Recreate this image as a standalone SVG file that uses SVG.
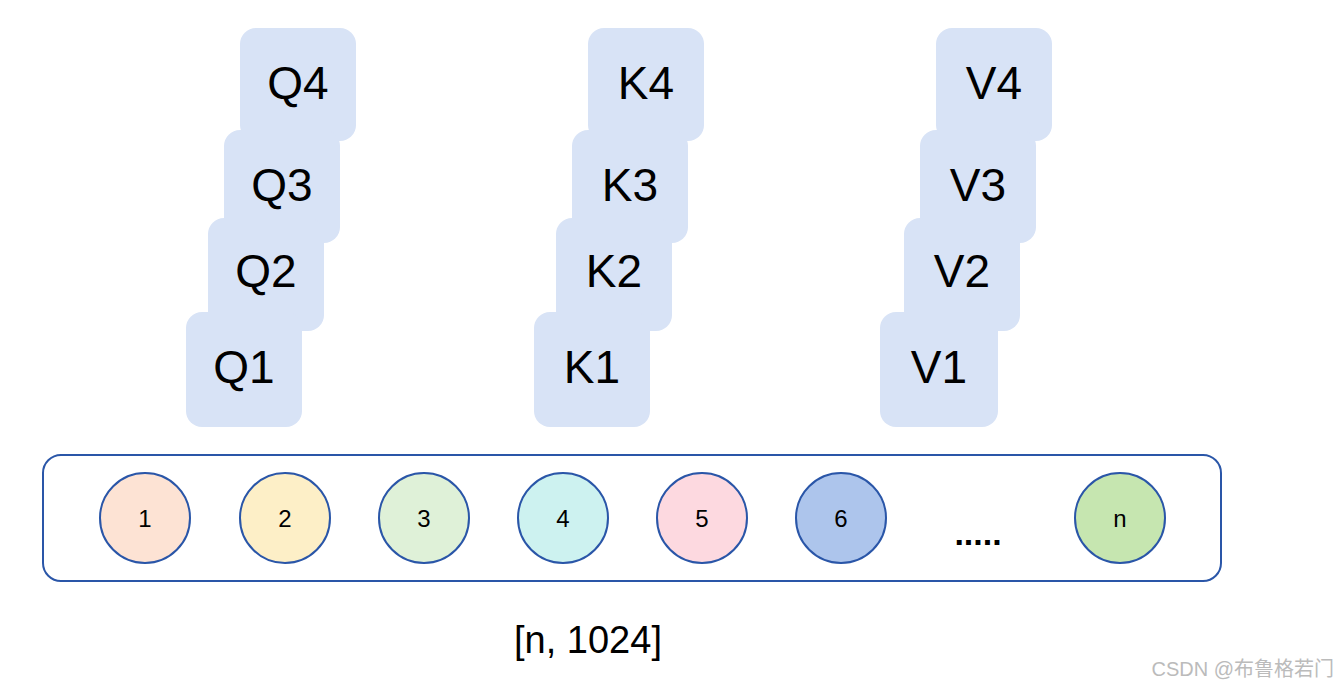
<svg xmlns="http://www.w3.org/2000/svg" width="1342" height="690" viewBox="0 0 1342 690">
<style>
.b{fill:#d8e3f6}
.bt{font-family:"Liberation Sans",Arial,sans-serif;font-size:46px;fill:#000;text-anchor:middle}
.c{stroke:#2a56a8;stroke-width:2}
.ct{font-family:"Liberation Sans",Arial,sans-serif;font-size:24px;fill:#000;text-anchor:middle}
</style>
<rect width="1342" height="690" fill="#fff"/>
<g id="Q4"><rect class="b" x="240" y="28" width="116" height="113" rx="16"/><text class="bt" x="298" y="99">Q4</text></g>
<g id="Q3"><rect class="b" x="224" y="130" width="116" height="113" rx="16"/><text class="bt" x="282" y="201">Q3</text></g>
<g id="Q2"><rect class="b" x="208" y="218" width="116" height="113" rx="16"/><text class="bt" x="266" y="287">Q2</text></g>
<g id="Q1"><rect class="b" x="186" y="312" width="116" height="115" rx="16"/><text class="bt" x="244" y="383">Q1</text></g>
<g id="K4"><rect class="b" x="588" y="28" width="116" height="113" rx="16"/><text class="bt" x="646" y="99">K4</text></g>
<g id="K3"><rect class="b" x="572" y="130" width="116" height="113" rx="16"/><text class="bt" x="630" y="201">K3</text></g>
<g id="K2"><rect class="b" x="556" y="218" width="116" height="113" rx="16"/><text class="bt" x="614" y="287">K2</text></g>
<g id="K1"><rect class="b" x="534" y="312" width="116" height="115" rx="16"/><text class="bt" x="592" y="383">K1</text></g>
<g id="V4"><rect class="b" x="936" y="28" width="116" height="113" rx="16"/><text class="bt" x="994" y="99">V4</text></g>
<g id="V3"><rect class="b" x="920" y="130" width="116" height="113" rx="16"/><text class="bt" x="978" y="201">V3</text></g>
<g id="V2"><rect class="b" x="904" y="218" width="116" height="113" rx="16"/><text class="bt" x="962" y="287">V2</text></g>
<g id="V1"><rect class="b" x="880" y="312" width="118" height="115" rx="16"/><text class="bt" x="939" y="383">V1</text></g>
<g id="container"><rect x="43" y="455" width="1178" height="126" rx="18" fill="none" stroke="#2a56a8" stroke-width="2"/></g>
<g id="n1"><circle class="c" cx="145" cy="518" r="45" fill="#fde3d4"/><text class="ct" x="145" y="527">1</text></g>
<g id="n2"><circle class="c" cx="285" cy="518" r="45" fill="#fdefc7"/><text class="ct" x="285" y="527">2</text></g>
<g id="n3"><circle class="c" cx="424" cy="518" r="45" fill="#dff1d8"/><text class="ct" x="424" y="527">3</text></g>
<g id="n4"><circle class="c" cx="563" cy="518" r="45" fill="#cdf2f0"/><text class="ct" x="563" y="527">4</text></g>
<g id="n5"><circle class="c" cx="702" cy="518" r="45" fill="#fdd9e0"/><text class="ct" x="702" y="527">5</text></g>
<g id="n6"><circle class="c" cx="841" cy="518" r="45" fill="#adc5ec"/><text class="ct" x="841" y="527">6</text></g>
<g id="dots"><text class="ct" x="978" y="545" style="font-size:34px;font-weight:bold">.....</text></g>
<g id="nn"><circle class="c" cx="1120" cy="518" r="45" fill="#c6e6b0"/><text class="ct" x="1120" y="527">n</text></g>
<g id="connectors"></g>
<text x="588" y="653" style="font-family:'Liberation Sans',Arial,sans-serif;font-size:38px;text-anchor:middle">[n, 1024]</text>
<text x="1334" y="676" style="font-family:'Liberation Sans','Noto Sans CJK SC',sans-serif;font-size:20px;fill:#bbb;text-anchor:end">CSDN @布鲁格若门</text>
</svg>
